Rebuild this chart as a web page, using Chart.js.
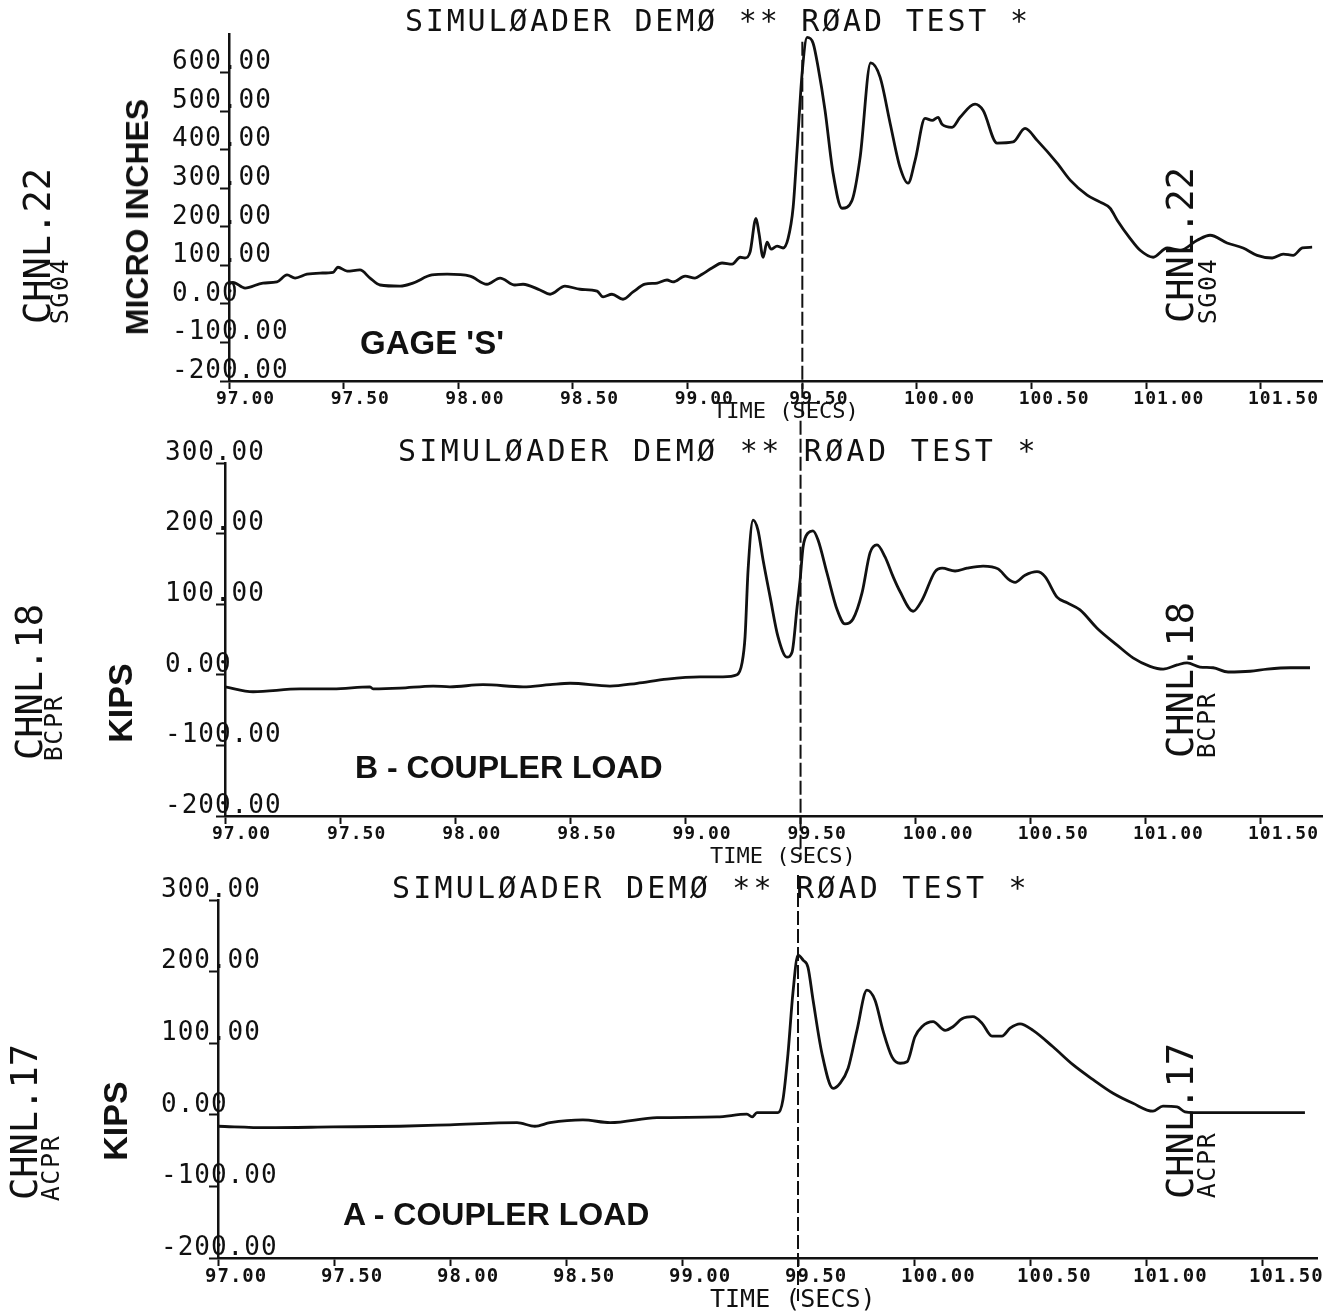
<!DOCTYPE html>
<html><head><meta charset="utf-8">
<script src="https://cdn.jsdelivr.net/npm/chart.js@4.4.1/dist/chart.umd.min.js"></script>
<style>
html,body{margin:0;padding:0;background:#fff;}
body{width:1342px;height:1316px;position:relative;overflow:hidden;}
canvas{position:absolute;left:0;}
.t{position:absolute;white-space:nowrap;color:#111;line-height:1;}
.mono{font-family:'DejaVu Sans Mono',monospace;}
.bold{font-family:'Liberation Sans',Arial,sans-serif;font-weight:bold;}
.rot{transform:translate(-50%,-50%) rotate(-90deg);}
.vc{transform:translateY(-50%);}
.title{font-size:30px;letter-spacing:2.8px;}
.ch{font-size:37px;}
.sub{font-size:25px;letter-spacing:1.6px;}
</style></head><body>
<canvas id="c1" width="1342" height="420" style="top:0px"></canvas>
<canvas id="c2" width="1342" height="440" style="top:420px"></canvas>
<canvas id="c3" width="1342" height="456" style="top:860px"></canvas>

<!-- panel 1 texts -->
<div class="t mono title vc" style="left:405px;top:21px">SIMULØADER DEMØ ** RØAD TEST *</div>
<div class="t mono ch rot" style="left:37px;top:246px">CHNL.22</div>
<div class="t mono sub rot" style="left:59px;top:291px">SG04</div>
<div class="t mono ch rot" style="left:1180px;top:245px">CHNL.22</div>
<div class="t mono sub rot" style="left:1207px;top:291px">SG04</div>
<div class="t bold rot" style="left:137px;top:217px;font-size:32px">MICRO INCHES</div>
<div class="t bold vc" style="left:360px;top:342px;font-size:33px">GAGE 'S'</div>
<div class="t mono vc" style="left:713px;top:411px;font-size:22px">TIME (SECS)</div>

<!-- panel 2 texts -->
<div class="t mono title vc" style="left:398px;top:451px;letter-spacing:3.3px">SIMULØADER DEMØ ** RØAD TEST *</div>
<div class="t mono ch rot" style="left:29px;top:682px">CHNL.18</div>
<div class="t mono sub rot" style="left:53px;top:728px">BCPR</div>
<div class="t mono ch rot" style="left:1180px;top:680px">CHNL.18</div>
<div class="t mono sub rot" style="left:1206px;top:725px">BCPR</div>
<div class="t bold rot" style="left:120px;top:703px;font-size:34px">KIPS</div>
<div class="t bold vc" style="left:355px;top:767px;font-size:32px">B - COUPLER LOAD</div>
<div class="t mono vc" style="left:710px;top:856px;font-size:22px">TIME (SECS)</div>

<!-- panel 3 texts -->
<div class="t mono title vc" style="left:392px;top:888px;letter-spacing:3.2px">SIMULØADER DEMØ ** RØAD TEST *</div>
<div class="t mono ch rot" style="left:24px;top:1122px">CHNL.17</div>
<div class="t mono sub rot" style="left:50px;top:1168px">ACPR</div>
<div class="t mono ch rot" style="left:1180px;top:1121px">CHNL.17</div>
<div class="t mono sub rot" style="left:1206px;top:1165px">ACPR</div>
<div class="t bold rot" style="left:115px;top:1121px;font-size:34px">KIPS</div>
<div class="t bold vc" style="left:343px;top:1214px;font-size:32px">A - COUPLER LOAD</div>
<div class="t mono vc" style="left:710px;top:1298px;font-size:25px">TIME (SECS)</div>

<script>
// ---------- DATA ----------
const markerTime = 99.50;

const time1 = [97.000,97.017,97.070,97.148,97.209,97.253,97.288,97.340,97.397,97.454,97.475,97.515,97.571,97.615,97.659,97.746,97.802,97.885,97.951,98.051,98.125,98.182,98.247,98.282,98.356,98.400,98.465,98.531,98.605,98.631,98.670,98.718,98.762,98.814,98.867,98.910,98.936,98.989,99.032,99.063,99.106,99.150,99.194,99.229,99.250,99.272,99.298,99.311,99.329,99.346,99.364,99.390,99.416,99.438,99.460,99.477,99.499,99.521,99.547,99.569,99.599,99.634,99.673,99.717,99.752,99.798,99.839,99.883,99.926,99.961,99.992,100.035,100.066,100.092,100.109,100.153,100.188,100.253,100.288,100.349,100.419,100.471,100.524,100.611,100.668,100.742,100.799,100.842,100.873,100.929,100.973,101.030,101.091,101.147,101.222,101.278,101.352,101.422,101.483,101.549,101.597,101.640,101.680,101.723];
const strainS = [52,56,41,54,57,75,67,77,80,82,95,85,88,67,49,46,54,75,77,72,51,67,49,51,36,25,46,38,33,18,25,12,31,51,54,62,57,72,67,77,93,106,103,121,119,134,222,183,121,160,142,150,145,170,251,398,598,691,676,613,502,339,248,269,380,625,588,468,354,313,373,481,476,484,466,458,484,518,502,417,420,455,424,365,321,282,264,248,217,170,139,121,145,139,165,178,158,145,126,119,129,126,145,147];

const time2 = [97.000,97.122,97.326,97.469,97.630,97.643,97.760,97.904,97.977,98.121,98.295,98.412,98.499,98.672,98.790,98.920,99.063,99.163,99.224,99.246,99.259,99.272,99.294,99.315,99.337,99.368,99.402,99.441,99.463,99.485,99.498,99.511,99.533,99.554,99.576,99.615,99.659,99.693,99.728,99.767,99.802,99.832,99.867,99.902,99.932,99.989,100.028,100.084,100.115,100.171,100.223,100.293,100.358,100.401,100.432,100.475,100.527,100.562,100.614,100.658,100.714,100.788,100.875,100.944,101.018,101.075,101.136,101.179,101.235,101.292,101.357,101.453,101.527,101.627,101.713];
const kipsB = [-17,-24,-20,-20,-17,-20,-19,-16,-17,-14,-17,-14,-12,-16,-12,-6,-3,-3,0,17,54,148,219,205,163,110,54,25,32,96,134,181,201,204,191,144,92,72,79,116,173,184,167,139,118,90,106,146,151,147,151,154,150,136,131,141,146,139,110,102,92,66,42,24,12,8,14,17,11,10,4,5,8,10,10];

const time3 = [97.000,97.211,97.496,97.784,98.000,98.289,98.366,98.431,98.573,98.690,98.892,99.151,99.280,99.302,99.323,99.414,99.435,99.457,99.478,99.500,99.522,99.543,99.565,99.603,99.651,99.681,99.716,99.754,99.797,99.832,99.866,99.905,99.940,99.970,100.004,100.034,100.082,100.134,100.168,100.207,100.254,100.293,100.336,100.379,100.414,100.457,100.513,100.599,100.685,100.772,100.858,100.944,101.030,101.073,101.134,101.168,101.203,101.375,101.522,101.685];
const kipsA = [-16,-18,-17,-16,-14,-11,-16,-11,-7,-11,-4,-3,1,-3,3,3,21,86,170,223,216,206,160,86,37,44,65,118,174,160,118,81,72,74,109,123,130,118,123,134,137,128,110,110,121,127,118,95,70,49,30,16,5,12,11,4,3,3,3,3];

const xTickStep = 0.5;
const yTickStep = 100;

// ---------- CHARTS ----------
const fmt = v => Number(v).toFixed(2);
const spacing = {id:'ls', beforeDraw(c){ try { c.ctx.letterSpacing = '1px'; } catch(e){} }};

function makeChart(id, cfg) {
  return new Chart(document.getElementById(id), {
    type: 'line',
    data: { datasets: [
      { data: cfg.t.map((x, i) => ({x, y: cfg.v[i]})), borderColor: '#111', borderWidth: 2.8,
        pointRadius: 0, cubicInterpolationMode: 'monotone', fill: false },
      { data: [{x: markerTime, y: cfg.mTop}, {x: markerTime, y: cfg.mBot}], borderColor: '#111',
        borderWidth: 2, borderDash: [14, 4], pointRadius: 0, tension: 0, clip: false, fill: false }
    ]},
    options: {
      responsive: false, animation: false, events: [],
      layout: { padding: { left: cfg.padL, right: cfg.padR, top: cfg.padT, bottom: cfg.padB } },
      plugins: { legend: { display: false }, tooltip: { enabled: false }, title: { display: false } },
      scales: {
        x: {
          type: 'linear', min: 97, max: cfg.xMax,
          afterFit: s => { s.height = 30; },
          border: { display: true, color: '#111', width: 2.5 },
          grid: { display: true, drawOnChartArea: false, drawTicks: true, tickLength: 8, tickWidth: 2, color: '#111' },
          ticks: { stepSize: xTickStep, includeBounds: false, autoSkip: false, maxRotation: 0, minRotation: 0,
            align: 'start', labelOffset: -13, padding: 0, color: '#111',
            font: { family: 'DejaVu Sans Mono', size: cfg.xFont, weight: 'bold' }, callback: fmt }
        },
        y: {
          type: 'linear', min: -200, max: cfg.yMax,
          afterFit: s => { s.width = cfg.yW; },
          afterBuildTicks: s => { s.ticks = s.ticks.filter(t => t.value <= cfg.yTopLabel); },
          border: { display: true, color: '#111', width: 2.5 },
          grid: { display: true, drawOnChartArea: false, drawTicks: true, tickLength: 9, tickWidth: 2, color: '#111' },
          ticks: { stepSize: yTickStep, autoSkip: false, mirror: true, crossAlign: 'near', padding: -cfg.yW,
            labelOffset: -10, color: '#111',
            font: { family: 'DejaVu Sans Mono', size: 26 }, callback: fmt }
        }
      }
    },
    plugins: [spacing]
  });
}

makeChart('c1', { t: time1, v: strainS, padL: 172, padR: 20, padT: 34, padB: 9, yW: 57,
  xMax: 101.766, yMax: 700, yTopLabel: 600, mTop: 680, mBot: -300, xFont: 18 });
makeChart('c2', { t: time2, v: kipsB, padL: 165, padR: 20, padT: 43, padB: 14, yW: 60,
  xMax: 101.765, yMax: 300, yTopLabel: 300, mTop: 360, mBot: -262, xFont: 18 });
makeChart('c3', { t: time3, v: kipsA, padL: 161, padR: 25, padT: 40, padB: 28, yW: 57,
  xMax: 101.737, yMax: 300, yTopLabel: 300, mTop: 335, mBot: -260, xFont: 19 });
</script>
</body></html>
